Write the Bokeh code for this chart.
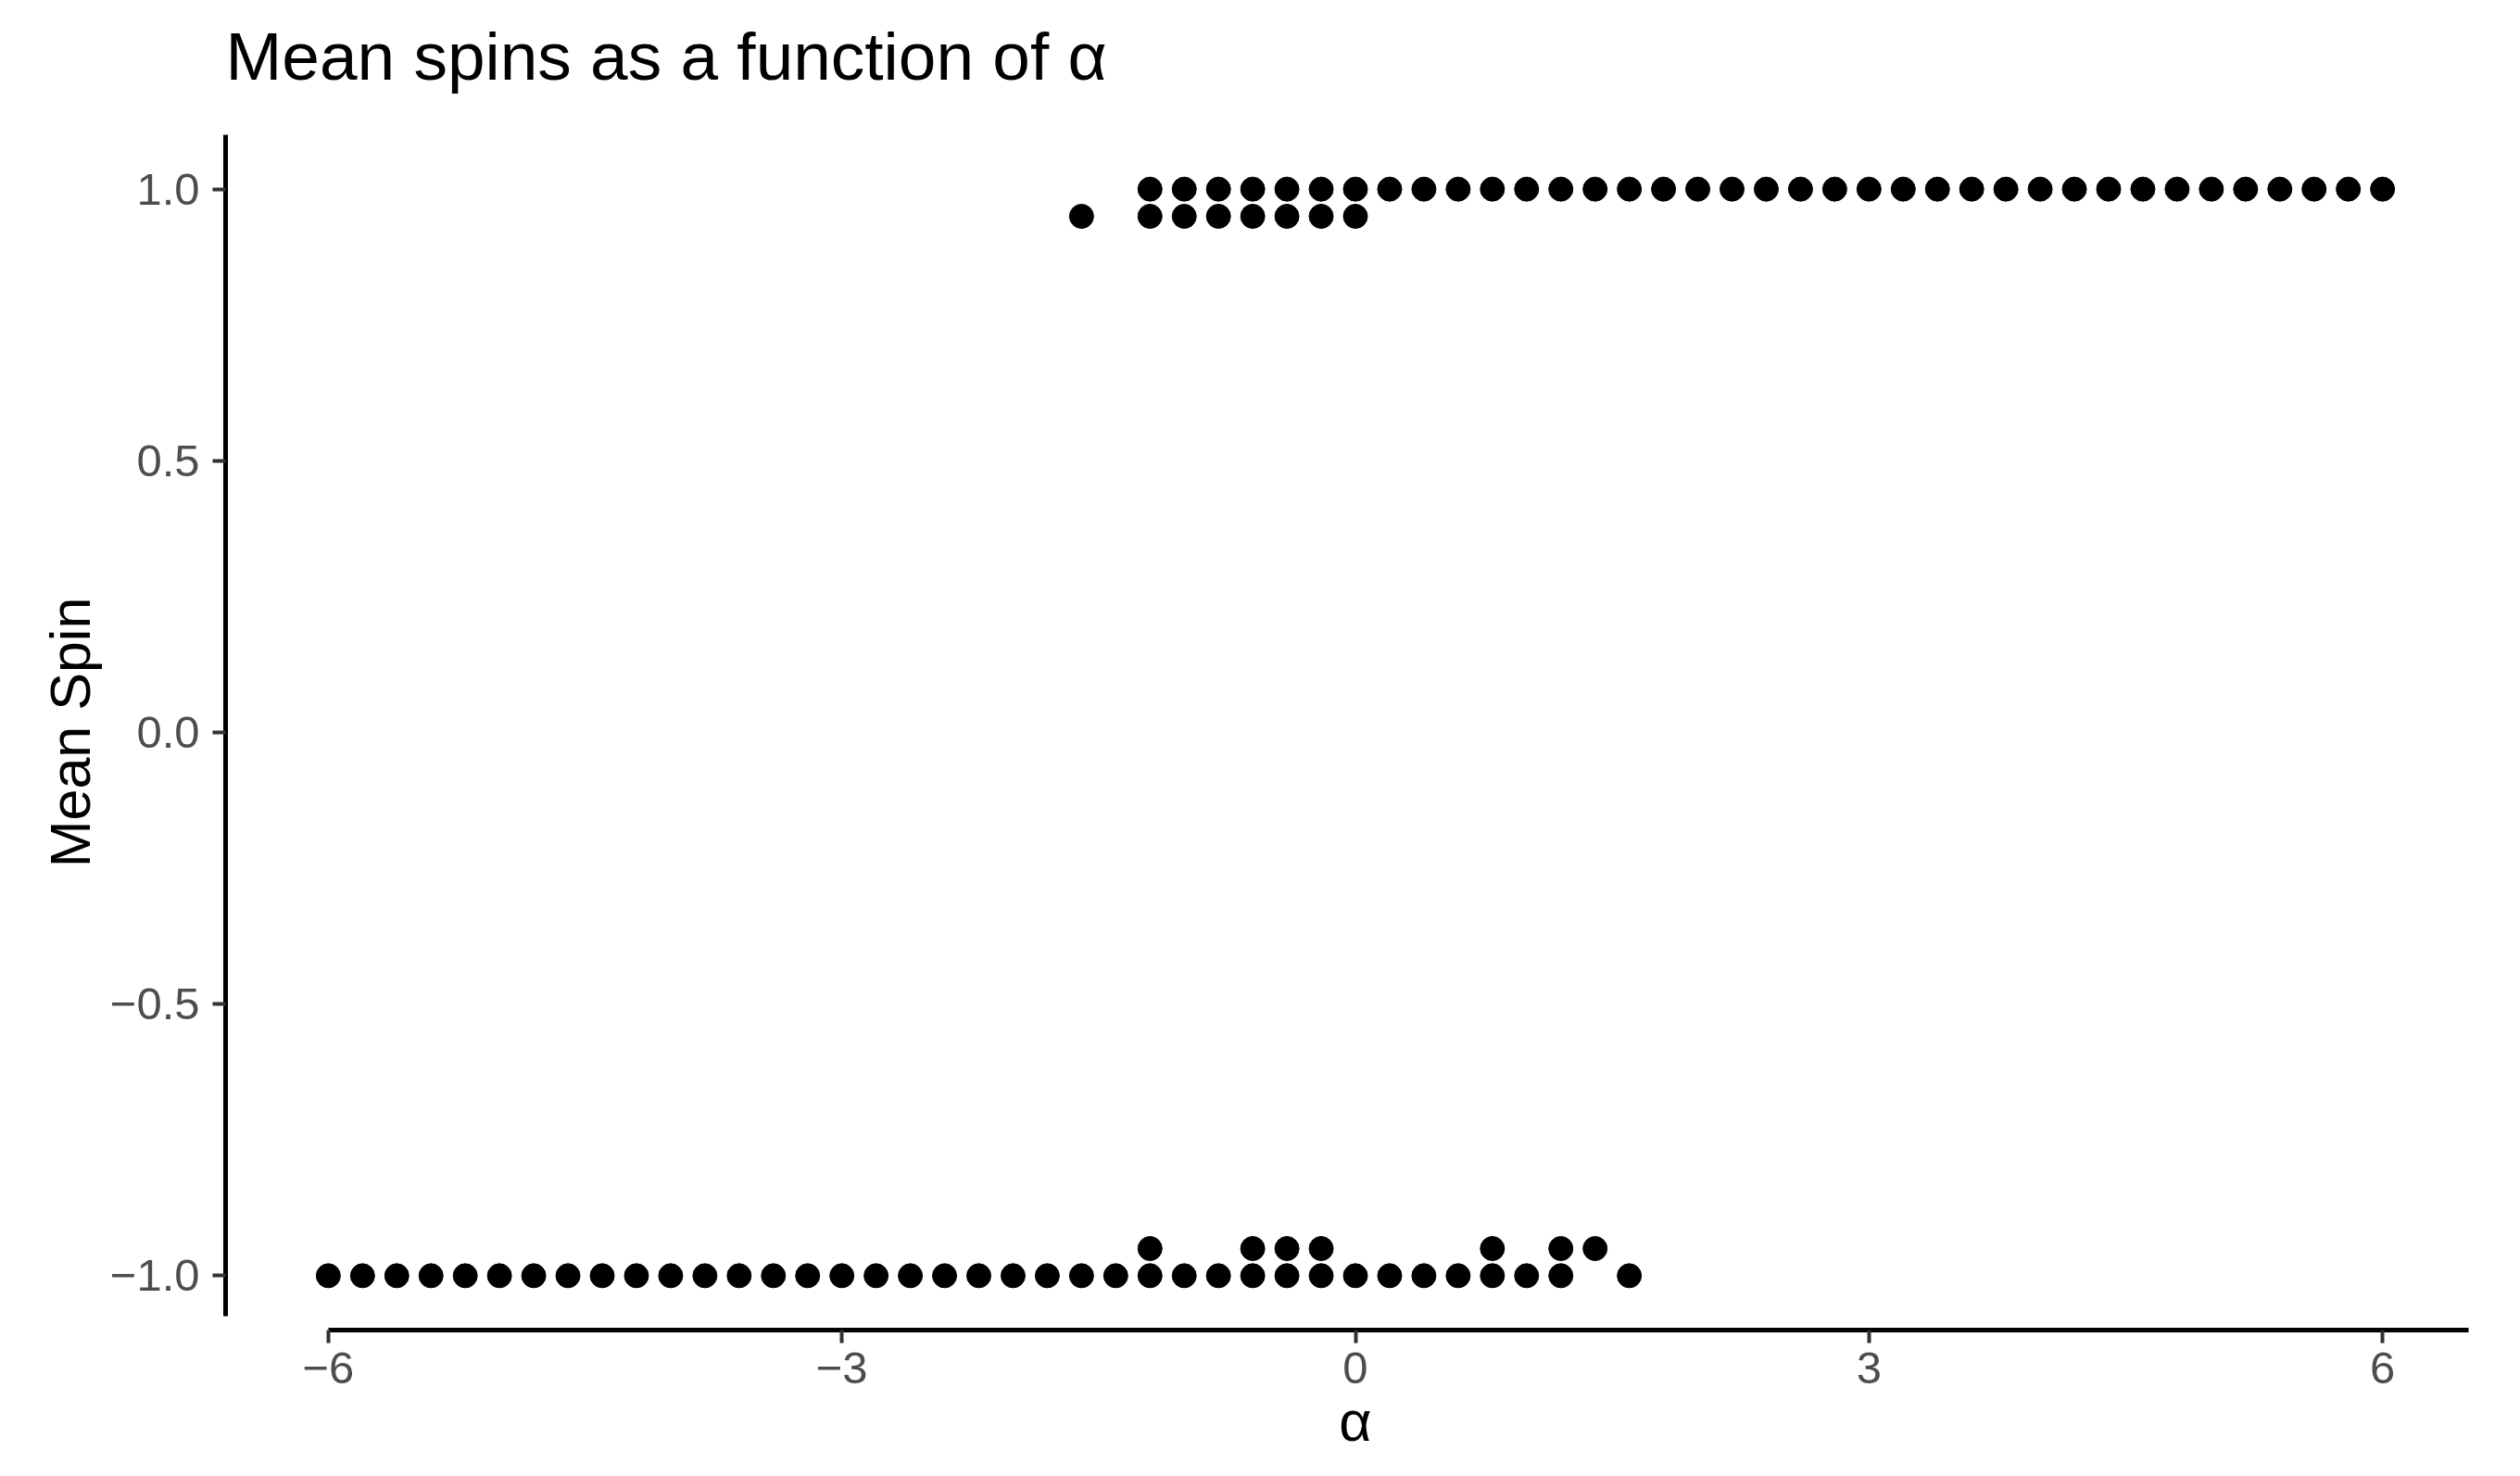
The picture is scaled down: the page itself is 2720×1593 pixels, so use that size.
from bokeh.plotting import figure
from bokeh.models import ColumnDataSource, FixedTicker, Range1d, Title
from bokeh.embed import file_html
from bokeh.resources import INLINE

# ---- data ----
alpha_at_1 = [-1.2, -1.0, -0.8, -0.6, -0.4, -0.2, 0.0, 0.2, 0.4, 0.6, 0.8, 1.0,
              1.2, 1.4, 1.6, 1.8, 2.0, 2.2, 2.4, 2.6, 2.8, 3.0, 3.2, 3.4, 3.6,
              3.8, 4.0, 4.2, 4.4, 4.6, 4.8, 5.0, 5.2, 5.4, 5.6, 5.8, 6.0]
alpha_at_095 = [-1.6, -1.2, -1.0, -0.8, -0.6, -0.4, -0.2, 0.0]
alpha_at_m095 = [-1.2, -0.6, -0.4, -0.2, 0.8, 1.2, 1.4]
alpha_at_m1 = [-6.0, -5.8, -5.6, -5.4, -5.2, -5.0, -4.8, -4.6, -4.4, -4.2, -4.0,
               -3.8, -3.6, -3.4, -3.2, -3.0, -2.8, -2.6, -2.4, -2.2, -2.0, -1.8,
               -1.6, -1.4, -1.2, -1.0, -0.8, -0.6, -0.4, -0.2, 0.0, 0.2, 0.4,
               0.6, 0.8, 1.0, 1.2, 1.6]
spin_levels = [1.0, 0.95, -0.95, -1.0]

x_ticks = [-6, -3, 0, 3, 6]
x_tick_labels = ["\u22126", "\u22123", "0", "3", "6"]
y_ticks = [-1.0, -0.5, 0.0, 0.5, 1.0]
y_tick_labels = ["\u22121.0", "\u22120.5", "0.0", "0.5", "1.0"]

title_text = "Mean spins as a function of \u03b1"
x_label = "\u03b1"
y_label = "Mean Spin"

# ---- build the table ----
groups = [alpha_at_1, alpha_at_095, alpha_at_m095, alpha_at_m1]
xs, ys = [], []
for g, lvl in zip(groups, spin_levels):
    xs.extend(g)
    ys.extend([lvl] * len(g))
src = ColumnDataSource(dict(alpha=xs, spin=ys))

FONT = "Liberation Sans"

p = figure(width=2704, height=1577, output_backend="svg", toolbar_location=None,
           x_range=Range1d(-6.6, 6.6), y_range=Range1d(-1.1, 1.1),
           min_border_left=243, min_border_right=22, min_border_top=144,
           min_border_bottom=142)
p.background_fill_color = "white"
p.border_fill_color = "white"
p.outline_line_color = None
p.xgrid.visible = False
p.ygrid.visible = False

p.scatter("alpha", "spin", source=src, size=26, color="black", marker="circle")

# title (outermost) plus a blank spacer between it and the frame
p.title.text = title_text
p.title.text_font = FONT
p.title.text_font_size = "73px"
p.title.text_font_style = "normal"
p.title.text_color = "black"
p.title.align = "left"
p.title.vertical_align = "bottom"
p.title.standoff = 35
p.add_layout(Title(text=" ", text_font_size="1px", standoff=24), "above")

for ax in (p.xaxis[0], p.yaxis[0]):
    ax.axis_line_width = 5
    ax.axis_line_color = "black"
    ax.major_tick_in = 0
    ax.major_tick_out = 14
    ax.major_tick_line_width = 4
    ax.major_tick_line_color = "#333333"
    ax.minor_tick_line_color = None
    ax.major_label_text_font = FONT
    ax.major_label_text_font_size = "49px"
    ax.major_label_text_color = "#4D4D4D"
    ax.axis_label_text_font = FONT
    ax.axis_label_text_font_size = "61px"
    ax.axis_label_text_font_style = "normal"
    ax.axis_label_text_color = "black"

p.xaxis[0].ticker = FixedTicker(ticks=x_ticks)
p.xaxis[0].major_label_overrides = dict(zip(x_ticks, x_tick_labels))
p.xaxis[0].axis_label = x_label
p.xaxis[0].bounds = (-6.0, 6.5)
p.xaxis[0].major_label_standoff = 10
p.xaxis[0].axis_label_standoff = 4

p.yaxis[0].ticker = FixedTicker(ticks=y_ticks)
p.yaxis[0].major_label_overrides = dict(zip(y_ticks, y_tick_labels))
p.yaxis[0].axis_label = y_label
p.yaxis[0].bounds = (-1.075, 1.1)
p.yaxis[0].major_label_standoff = 14
p.yaxis[0].axis_label_standoff = 6

open("out.html", "w").write(file_html(p, INLINE))
